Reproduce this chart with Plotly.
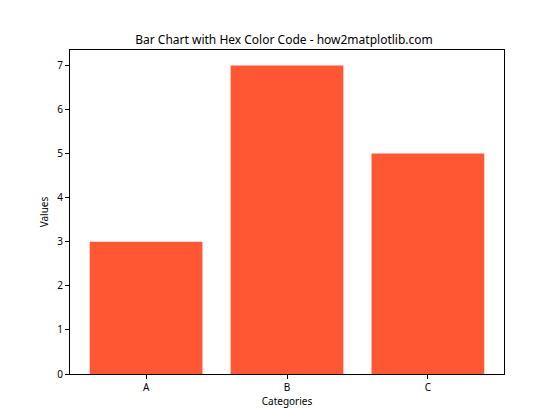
import plotly.graph_objects as go

categories = ['A', 'B', 'C']
values = [3, 7, 5]
bar_color = '#FF5733'

fig = go.Figure()
fig.add_trace(go.Bar(x=categories, y=values, marker_color=bar_color,
                     marker_line_width=0, width=0.8))

axis_style = dict(showline=True, linecolor='black', linewidth=1, mirror=True,
                  showgrid=False, zeroline=False, ticks='outside', ticklen=4,
                  tickcolor='black', tickfont=dict(size=10, color='black'))

# page body has an 8px margin, so the figure is a bit smaller than the window
fig.update_layout(
    width=552, height=412,
    margin=dict(l=62, r=56, t=42, b=46),
    paper_bgcolor='white', plot_bgcolor='white',
    font=dict(family='Noto Sans', size=10, color='black'),
    title=dict(text='Bar Chart with Hex Color Code - how2matplotlib.com',
               x=0.5, xanchor='center', y=0.912, yanchor='bottom',
               font=dict(size=12, color='black')),
    showlegend=False,
)
fig.update_xaxes(range=[-0.54, 2.54],
                 title=dict(text='Categories', standoff=3, font=dict(size=10)),
                 **axis_style)
fig.update_yaxes(range=[0, 7.35], dtick=1,
                 title=dict(text='Values', standoff=6, font=dict(size=10)),
                 **axis_style)

fig.write_html("out.html")
